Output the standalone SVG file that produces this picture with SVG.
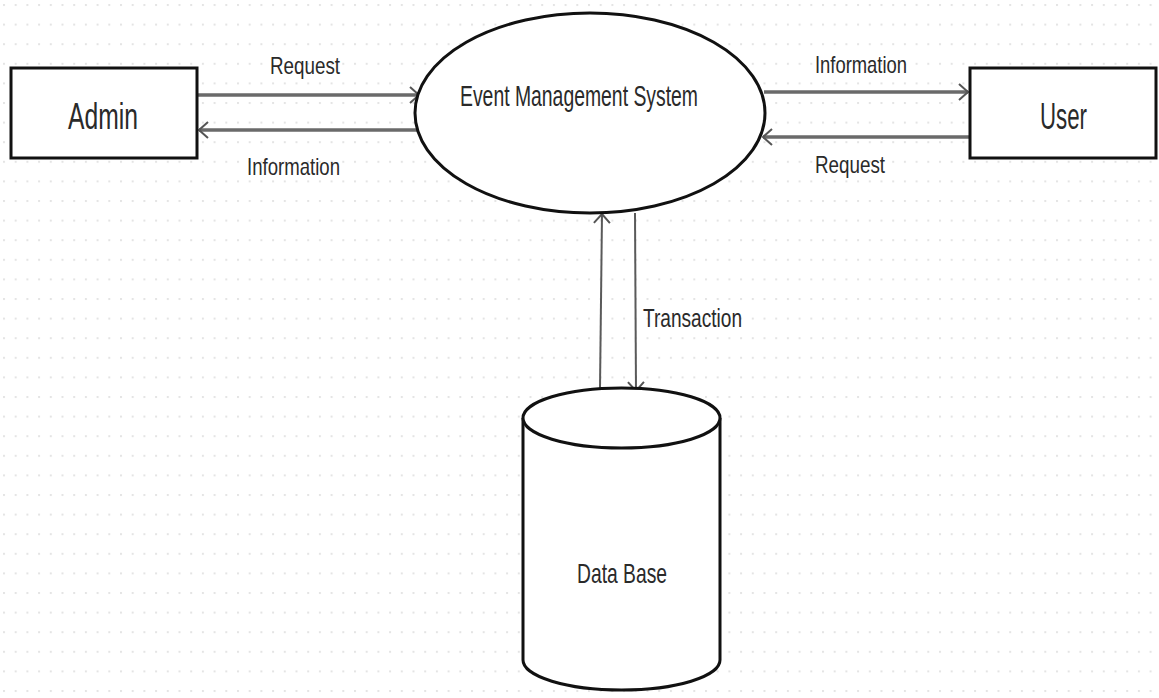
<svg xmlns="http://www.w3.org/2000/svg" width="1159" height="698" viewBox="0 0 1159 698">
  <defs>
    <pattern id="dots" x="3" y="4" width="11.7" height="19.6" patternUnits="userSpaceOnUse">
      <rect x="0" y="0" width="2" height="2" fill="#e4e4e4"/>
    </pattern>
    <marker id="arr" markerUnits="userSpaceOnUse" markerWidth="14" markerHeight="20" refX="11" refY="9" orient="auto" overflow="visible">
      <path d="M2,1 L11,9 L2,17" fill="none" stroke="#555" stroke-width="2"/>
    </marker>
    <style>
      .node { fill: #fff; stroke: #111; stroke-width: 3; }
      .flow { fill: none; stroke: #6a6a6a; stroke-width: 3.5; marker-end: url(#arr); }
      .vflow { fill: none; stroke: #5a5a5a; stroke-width: 2; marker-end: url(#arr); }
      .t { font-family: "Liberation Sans", Arial, sans-serif; fill: #2a2a2a; lengthAdjust: spacingAndGlyphs; }
    </style>
  </defs>
  <rect width="1159" height="698" fill="#fff"/>
  <rect width="1159" height="698" fill="url(#dots)"/>

  <g id="connectors">
    <line class="flow" x1="198" y1="95" x2="419" y2="95"/>
    <line class="flow" x1="420" y1="130" x2="199" y2="130"/>
    <line class="flow" x1="764" y1="92" x2="968" y2="92"/>
    <line class="flow" x1="969" y1="137" x2="763" y2="137"/>
    <line class="vflow" x1="600" y1="388" x2="602" y2="214"/>
    <line class="vflow" x1="635" y1="213" x2="636" y2="391"/>
    <text class="t" x="270" y="74" font-size="24" textLength="70" lengthAdjust="spacingAndGlyphs">Request</text>
    <text class="t" x="247" y="175" font-size="24" textLength="93" lengthAdjust="spacingAndGlyphs">Information</text>
    <text class="t" x="815" y="73" font-size="24" textLength="92" lengthAdjust="spacingAndGlyphs">Information</text>
    <text class="t" x="815" y="173" font-size="24" textLength="70" lengthAdjust="spacingAndGlyphs">Request</text>
    <text class="t" x="643" y="327" font-size="25" textLength="99" lengthAdjust="spacingAndGlyphs">Transaction</text>
  </g>

  <g id="admin">
    <rect class="node" x="11" y="68" width="186" height="90"/>
    <text class="t" x="68" y="129" font-size="36" textLength="70" lengthAdjust="spacingAndGlyphs">Admin</text>
  </g>

  <g id="user">
    <rect class="node" x="970" y="68" width="186" height="90"/>
    <text class="t" x="1040" y="129" font-size="36" textLength="47" lengthAdjust="spacingAndGlyphs">User</text>
  </g>

  <g id="ems">
    <ellipse class="node" cx="590" cy="113" rx="175" ry="100"/>
    <text class="t" x="460" y="106" font-size="29" textLength="238" lengthAdjust="spacingAndGlyphs">Event Management System</text>
  </g>

  <g id="database">
    <path class="node" d="M523,418 L523,660 A98.5,30 0 0 0 720,660 L720,418"/>
    <ellipse class="node" cx="621.5" cy="418" rx="98.5" ry="30"/>
    <text class="t" x="577" y="583" font-size="28" textLength="90" lengthAdjust="spacingAndGlyphs">Data Base</text>
  </g>
</svg>
